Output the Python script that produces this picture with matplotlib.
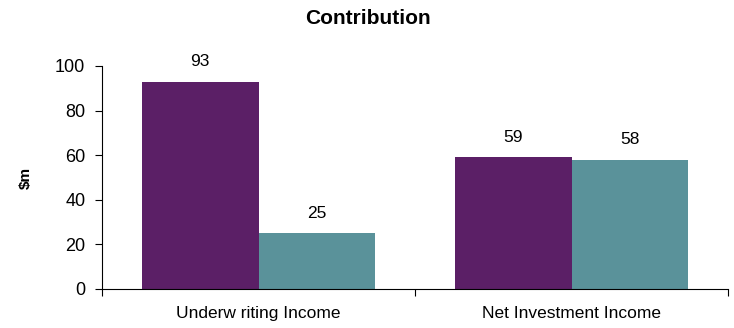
import matplotlib.pyplot as plt
import numpy as np

plt.rcParams['font.family'] = ['Liberation Sans', 'DejaVu Sans']

categories = ['Underw riting Income', 'Net Investment Income']
series_a = [93, 59]
series_b = [25, 58]
colors = ['#5B1F66', '#5A929A']

fig = plt.figure(figsize=(7.34, 3.28), dpi=100)
ax = fig.add_axes([0.139, 0.119, 0.853, 0.680])

x = np.arange(len(categories))
w = 0.373
bars_a = ax.bar(x - w / 2, series_a, w, color=colors[0])
bars_b = ax.bar(x + w / 2, series_b, w, color=colors[1])

for bars in (bars_a, bars_b):
    for b in bars:
        ax.annotate(f'{b.get_height():g}', (b.get_x() + b.get_width() / 2, b.get_height()),
                    xytext=(0, 9), textcoords='offset points',
                    ha='center', va='bottom', fontsize=12.5)

ax.set_xlim(-0.5, 1.5)
ax.set_ylim(0, 100)
ax.set_yticks([0, 20, 40, 60, 80, 100])
ax.tick_params(axis='y', labelsize=13, length=5, direction='out', pad=7)

# category boundaries get the tick marks, names sit in between
ax.set_xticks([-0.5, 0.5, 1.5])
ax.set_xticklabels([])
ax.set_xticks(x, minor=True)
ax.set_xticklabels(categories, minor=True, fontsize=12.5)
ax.tick_params(axis='x', which='major', length=5, direction='out')
ax.tick_params(axis='x', which='minor', length=0, pad=12)

for s in ['top', 'right']:
    ax.spines[s].set_visible(False)

ax.set_ylabel('$m', fontsize=11, fontweight='bold', labelpad=16)
fig.text(368 / 734, 1 - 19 / 328, 'Contribution', fontsize=15, fontweight='bold',
         ha='center', va='center')

fig.savefig('out.png', dpi=100)
